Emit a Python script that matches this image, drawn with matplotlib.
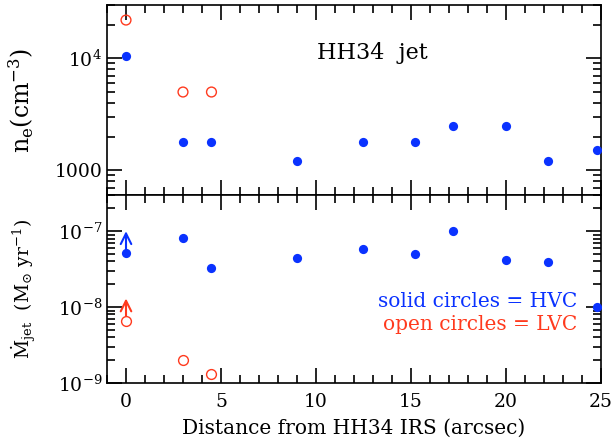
"""HH34 jet: electron density and mass flux vs distance from the source."""

import matplotlib

matplotlib.use("Agg")
import matplotlib.pyplot as plt
from matplotlib.ticker import FixedLocator, LogLocator, MultipleLocator, NullFormatter

BLUE = "#0a32ff"
RED = "#ff3a1e"

plt.rcParams["font.family"] = ["DejaVu Serif"]
plt.rcParams["mathtext.fontset"] = "dejavuserif"

# ---- data -------------------------------------------------------------------
# high-velocity component (solid circles)
hvc_dist = [0, 3, 4.5, 9, 12.5, 15.2, 17.2, 20, 22.2, 24.8]
hvc_ne = [1.05e4, 1800, 1800, 1200, 1800, 1800, 2500, 2500, 1200, 1500]
hvc_mdot = [5.2e-8, 8.2e-8, 3.3e-8, 4.4e-8, 5.9e-8, 5.0e-8, 1.0e-7, 4.2e-8, 3.95e-8, 1.0e-8]

# low-velocity component (open circles)
lvc_dist = [0, 3, 4.5]
lvc_ne = [2.2e4, 5000, 5000]
lvc_mdot = [6.6e-9, 2.0e-9, 1.3e-9]

# lower limits on Mdot at the source position (arrow tips)
lim_dist = [0, 0]
lim_from = [5.2e-8, 6.6e-9]
lim_to = [1.0e-7, 1.3e-8]
lim_color = [BLUE, RED]

XLIM = (-1, 25)


def style_axis(ax):
    for spine in ax.spines.values():
        spine.set_linewidth(1.2)
    ax.tick_params(which="both", direction="in", top=True, right=True,
                   width=1.2, colors="black", labelsize=13.5)
    ax.tick_params(which="major", length=10.5)
    ax.tick_params(which="minor", length=5.5)
    ax.tick_params(axis="x", pad=7)
    ax.xaxis.set_major_locator(MultipleLocator(5))
    ax.xaxis.set_minor_locator(MultipleLocator(1))
    ax.yaxis.set_minor_locator(LogLocator(base=10, subs=range(2, 10)))
    ax.yaxis.set_minor_formatter(NullFormatter())
    ax.set_xlim(*XLIM)


fig = plt.figure(figsize=(6.15, 4.46), dpi=100, facecolor="white")
ax1 = fig.add_axes([0.174, 0.5628, 0.803, 0.426])
ax2 = fig.add_axes([0.174, 0.1413, 0.803, 0.4215], sharex=ax1)

# ---- top: electron density --------------------------------------------------
ax1.set_yscale("log")
ax1.scatter(hvc_dist, hvc_ne, s=44, color=BLUE, linewidths=0, zorder=3)
ax1.scatter(lvc_dist, lvc_ne, s=50, facecolors="none", edgecolors=RED,
            linewidths=1.0, zorder=3)
style_axis(ax1)
ax1.set_ylim(600, 3.0e4)
ax1.yaxis.set_major_locator(FixedLocator([1000, 1e4]))
ax1.set_yticklabels(["1000", r"$10^4$"])
ax1.tick_params(labelbottom=False)
ax1.set_ylabel(r"$\mathrm{n_e(cm^{-3})}$", fontsize=17, labelpad=13)
ax1.text(0.425, 0.747, "HH34  jet", transform=ax1.transAxes, fontsize=16,
         ha="left", va="center")

# ---- bottom: mass flux ------------------------------------------------------
ax2.set_yscale("log")
for x, y0, y1, c in zip(lim_dist, lim_from, lim_to, lim_color):
    ax2.annotate("", xy=(x, y1), xytext=(x, y0),
                 arrowprops=dict(arrowstyle="->", color=c, lw=1.5,
                                 mutation_scale=19, shrinkA=0, shrinkB=0),
                 zorder=2)
ax2.scatter(hvc_dist, hvc_mdot, s=44, color=BLUE, linewidths=0, zorder=3)
ax2.scatter(lvc_dist, lvc_mdot, s=50, facecolors="white", edgecolors=RED,
            linewidths=1.0, zorder=3)
style_axis(ax2)
ax2.set_ylim(1e-9, 3.0e-7)
ax2.yaxis.set_major_locator(FixedLocator([1e-9, 1e-8, 1e-7]))
ax2.set_yticklabels([r"$10^{-9}$", r"$10^{-8}$", r"$10^{-7}$"])
ax2.set_ylabel(r"$\mathrm{\dot{M}_{jet}\ \ (M_{\odot}\ yr^{-1})}$", fontsize=13.5,
               labelpad=14)
ax2.set_xlabel("Distance from HH34 IRS (arcsec)", fontsize=14.5, labelpad=6)
ax2.text(0.953, 0.432, "solid circles = HVC", transform=ax2.transAxes,
         color=BLUE, fontsize=14.5, ha="right", va="center")
ax2.text(0.953, 0.309, "open circles = LVC", transform=ax2.transAxes,
         color=RED, fontsize=14.5, ha="right", va="center")

fig.savefig("out.png", dpi=100, facecolor="white")
